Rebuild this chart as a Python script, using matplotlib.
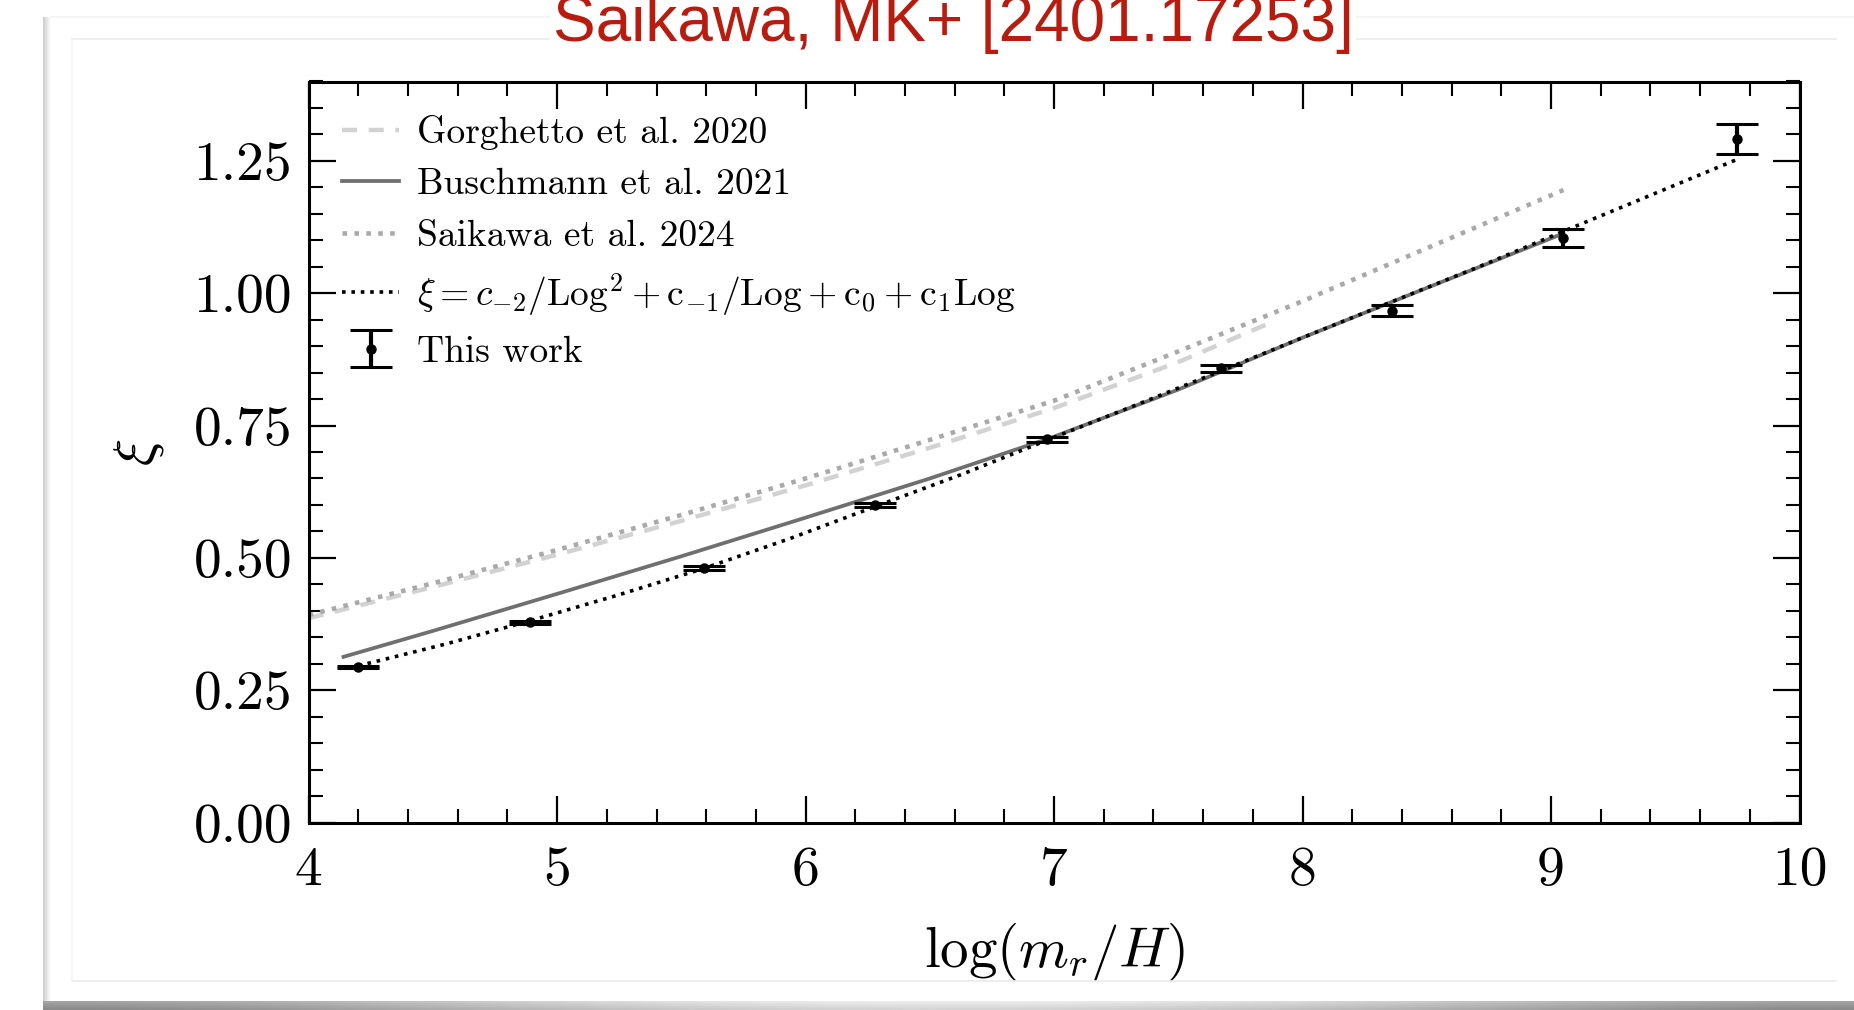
import numpy as np
import matplotlib
matplotlib.use("Agg")
import matplotlib.pyplot as plt
from matplotlib.lines import Line2D
from matplotlib.ticker import MultipleLocator, FormatStrFormatter

# ---- data -------------------------------------------------------------
# simulation results ("This work")
log_x = [4.20, 4.89, 5.59, 6.28, 6.97, 7.67, 8.36, 9.05, 9.75]
xi = [0.293, 0.378, 0.481, 0.600, 0.724, 0.858, 0.967, 1.104, 1.291]
xi_err = [0.002, 0.003, 0.003, 0.004, 0.005, 0.007, 0.010, 0.017, 0.028]

# Gorghetto et al. 2020
gorg_x = [4.00, 4.50, 5.00, 5.50, 6.00, 6.50, 7.00, 7.50, 7.88]
gorg_y = [0.386, 0.445, 0.506, 0.570, 0.637, 0.708, 0.783, 0.870, 0.946]

# Buschmann et al. 2021
busch_x = [4.14, 4.50, 5.00, 5.50, 6.00, 6.50, 7.00, 7.50, 8.00, 8.50, 9.05]
busch_y = [0.313, 0.362, 0.432, 0.503, 0.576, 0.650, 0.729, 0.818, 0.916, 1.010, 1.113]

# Saikawa et al. 2024
saik_x = [4.00, 4.50, 5.00, 5.50, 6.00, 6.50, 7.00, 7.50, 8.00, 8.50, 9.05]
saik_y = [0.392, 0.452, 0.515, 0.581, 0.650, 0.723, 0.797, 0.890, 0.985, 1.085, 1.195]

# fitted curve xi = c_-2/Log^2 + c_-1/Log + c_0 + c_1 Log
fit_x = [4.20, 4.55, 4.89, 5.24, 5.59, 5.94, 6.28, 6.63, 6.97, 7.32, 7.67,
         8.01, 8.36, 8.71, 9.05, 9.40, 9.75]
fit_y = [0.296, 0.337, 0.381, 0.429, 0.480, 0.537, 0.597, 0.658, 0.722, 0.787,
         0.853, 0.918, 0.984, 1.050, 1.117, 1.185, 1.253]

labels = ["Gorghetto et al. 2020", "Buschmann et al. 2021", "Saikawa et al. 2024",
          r"$\xi = c_{-2}/\mathrm{Log}^2 + \mathrm{c}_{-1}/\mathrm{Log} + \mathrm{c}_0 + \mathrm{c}_1\mathrm{Log}$",
          "This work"]
title_text = "Saikawa, MK+ [2401.17253]"

# ---- style ------------------------------------------------------------
plt.rcParams["font.family"] = "serif"
plt.rcParams["font.serif"] = ["cmr10", "DejaVu Serif"]
plt.rcParams["mathtext.fontset"] = "cm"
plt.rcParams["axes.formatter.use_mathtext"] = True

W, H = 1854, 1010
fig = plt.figure(figsize=(W / 100, H / 100), dpi=100)
fig.patch.set_facecolor("white")

# ---- slide card decoration -------------------------------------------
def px_axes(x0, y0, x1, y1, **kw):
    """Axes placed in pixel coordinates measured from the top-left corner."""
    return fig.add_axes([x0 / W, 1 - y1 / H, (x1 - x0) / W, (y1 - y0) / H], **kw)

sh = px_axes(43, 17, 51, 1002)
sh.imshow(np.linspace(0.80, 1.0, 32)[None, :], cmap="gray", vmin=0, vmax=1,
          aspect="auto", interpolation="bilinear")
sh.axis("off")

bt = px_axes(43, 1001, W, H)
u = np.linspace(-1, 1, 256)
band = 0.60 + 0.32 * (1 - u ** 2) ** 2
rows = np.vstack([band * 0.9 + 0.1 * (1 - k / 7) for k in range(8)])
bt.imshow(np.clip(rows, 0, 1), cmap="gray", vmin=0, vmax=1, aspect="auto",
          interpolation="bilinear")
bt.axis("off")

for (xa, ya, xb, yb, c) in [(72, 39, 1836, 39, "#ebebeb"),
                             (72, 981, 1836, 981, "#ebebeb"),
                             (72, 39, 72, 981, "#f5f5f5"),
                             (51, 17, W, 17, "#f3f3f3")]:
    fig.add_artist(Line2D([xa / W, xb / W], [1 - ya / H, 1 - yb / H],
                          transform=fig.transFigure, color=c, lw=1.2))

fig.text(953 / W, 1 - 41 / H, title_text, ha="center", va="baseline",
         fontsize=46, color="#b81c0f", family=["Liberation Sans", "DejaVu Sans"],
         bbox=dict(facecolor="white", edgecolor="none", pad=2))

# ---- main axes ----------------------------------------------------------
ax = px_axes(308.7, 81.5, 1799.5, 822.5)

h_gorg, = ax.plot(gorg_x, gorg_y, color="#d2d2d2", lw=3.2, ls=(0, (3.4, 2.6)))
h_busch, = ax.plot(busch_x, busch_y, color="#6f6f6f", lw=2.7, ls="-")
h_saik, = ax.plot(saik_x, saik_y, color="#a9a9a9", lw=3.3, ls=(0, (1, 1.6)))
h_fit, = ax.plot(fit_x, fit_y, color="black", lw=2.6, ls=(0, (1, 1.6)))
h_data = ax.errorbar(log_x, xi, yerr=xi_err, fmt="o", color="black", ms=6.5,
                     elinewidth=3.0, capsize=15, capthick=2.2, zorder=5)

ax.set_xlim(4, 10)
ax.set_ylim(0, 1.4)
ax.xaxis.set_major_locator(MultipleLocator(1))
ax.xaxis.set_minor_locator(MultipleLocator(0.2))
ax.yaxis.set_major_locator(MultipleLocator(0.25))
ax.yaxis.set_minor_locator(MultipleLocator(0.05))
ax.yaxis.set_major_formatter(FormatStrFormatter("%.2f"))
ax.xaxis.set_major_formatter(FormatStrFormatter("%d"))

ax.tick_params(which="both", direction="in", top=True, right=True,
               labelsize=40, color="black")
ax.tick_params(which="major", length=19.5, width=1.6, pad=12)
ax.tick_params(axis="x", which="major", pad=17)
ax.tick_params(which="minor", length=10, width=1.5)
for s in ax.spines.values():
    s.set_linewidth(2.2)

ax.set_xlabel(r"$\log(m_r/H)$", fontsize=41, labelpad=18)
ax.set_ylabel(r"$\xi$", fontsize=41, labelpad=20)

ax.legend([h_gorg, h_busch, h_saik, h_fit, h_data], labels, loc="upper left",
          frameon=False, fontsize=27, handlelength=1.5, handletextpad=0.5,
          labelspacing=0.48, borderaxespad=0.5, borderpad=0.4)

fig.savefig("out.png", dpi=100, facecolor="white")
